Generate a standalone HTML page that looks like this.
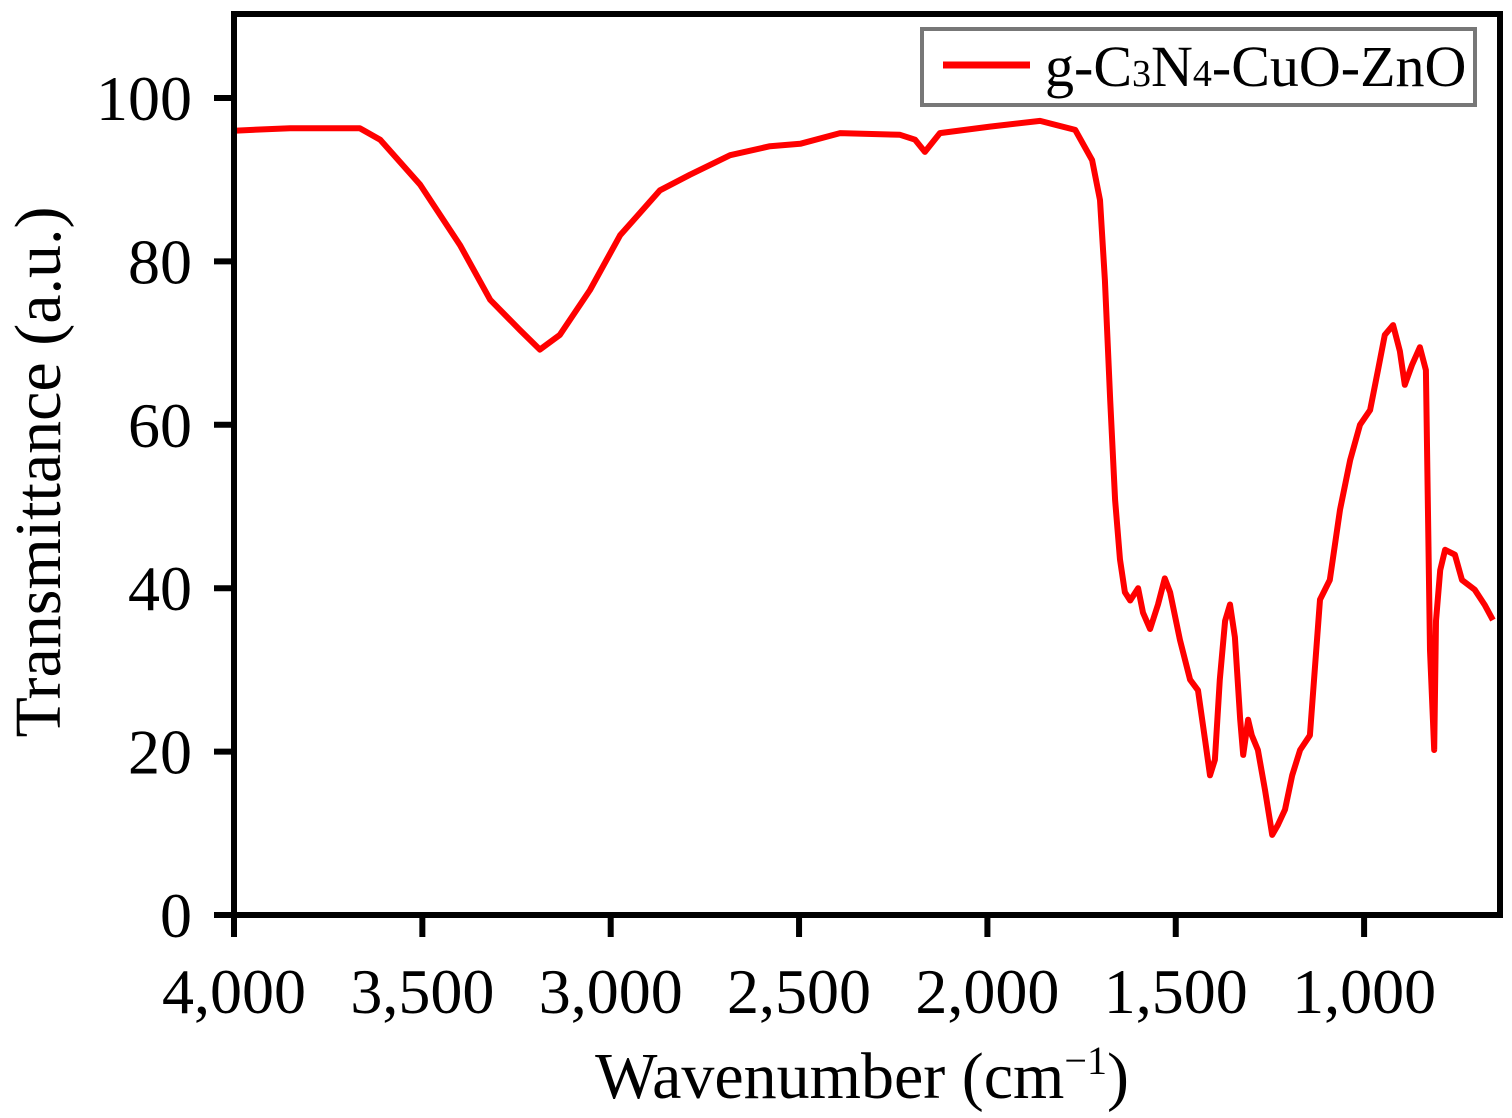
<!DOCTYPE html>
<html><head><meta charset="utf-8"><style>
html,body{margin:0;padding:0;background:#fff;}
svg{display:block;font-family:"Liberation Serif",serif;}
</style></head><body>
<svg id="chart" width="1512" height="1118" viewBox="0 0 1512 1118">
<g id="plot"></g>
</svg>
<script>
const wavenumbers=[4000,3851,3666,3612,3506,3400,3320,3241,3188,3135,3055,2975,2869,2790,2683,2577,2497,2391,2232,2192,2166,2126,1993,1860,1767,1722,1701,1688,1674,1661,1648,1635,1621,1600,1587,1568,1547,1529,1515,1489,1462,1441,1422,1409,1396,1383,1369,1356,1343,1329,1321,1308,1298,1282,1263,1244,1229,1210,1191,1170,1144,1117,1091,1064,1037,1011,984,963,945,923,905,892,873,852,836,831,825,814,809,798,785,759,740,706,679,658];
const transmittance=[96,96.3,96.3,94.9,89.4,82,75.3,71.6,69.2,71,76.5,83.2,88.7,90.6,93,94.1,94.4,95.7,95.5,94.9,93.4,95.7,96.5,97.2,96.1,92.4,87.5,77.7,63,50.8,43.5,39.5,38.5,40,37,35,38,41.2,39.5,33.7,28.8,27.5,21.4,17.1,19,28.8,36,38,34,23.9,19.6,23.9,22,20.2,15.3,9.8,11,12.9,17.1,20.2,22,38.6,41,49.6,55.7,60,61.8,66.7,71,72.2,69,64.9,67.3,69.5,66.7,50.8,32.4,20.2,36,42.2,44.7,44.1,41,39.8,37.9,36.1];
const xTicks=[4000,3500,3000,2500,2000,1500,1000];
const xTickLabels=["4,000","3,500","3,000","2,500","2,000","1,500","1,000"];
const yTicks=[0,20,40,60,80,100];
const yTickLabels=["0","20","40","60","80","100"];

const L=234,R=1500,T=14,B=915;
const X=w=>L+(4000-w)*0.3767;
const Y=v=>B-v*8.17;
const NS="http://www.w3.org/2000/svg";
const g=document.getElementById('plot');
function mk(tag,attrs,parent){const e=document.createElementNS(NS,tag);for(const k in attrs)e.setAttribute(k,attrs[k]);(parent||g).appendChild(e);return e;}

const clip=mk('clipPath',{id:'pc'});
mk('rect',{x:L,y:T,width:R-L,height:B-T},clip);

let d='';
for(let i=0;i<wavenumbers.length;i++){d+=(i?'L':'M')+X(wavenumbers[i]).toFixed(1)+','+Y(transmittance[i]).toFixed(1);}
const line=mk('path',{d:d,fill:'none',stroke:'#ff0000','stroke-width':6,'stroke-linejoin':'round','clip-path':'url(#pc)'});



const frame=mk('rect',{x:L,y:T,width:R-L,height:B-T,fill:'none',stroke:'#000','stroke-width':6});



xTicks.forEach((w,i)=>{
  const t=mk('line',{x1:X(w),x2:X(w),y1:B,y2:B+22,stroke:'#000','stroke-width':6});
  
  
  const lb=mk('text',{x:X(w),y:1013,'text-anchor':'middle','font-size':64});
  lb.textContent=xTickLabels[i];
  
  
});
yTicks.forEach((v,i)=>{
  const t=mk('line',{x1:L-20,x2:L,y1:Y(v),y2:Y(v),stroke:'#000','stroke-width':6});
  
  
  const lb=mk('text',{x:192,y:Y(v)+22,'text-anchor':'end','font-size':64});
  lb.textContent=yTickLabels[i];
  
  
});
</script>
<svg width="1512" height="1118" style="position:absolute;left:0;top:0;font-family:'Liberation Serif',serif">
<text x="862" y="1098" text-anchor="middle" font-size="66">Wavenumber (cm<tspan dy="-24" font-size="40">−1</tspan><tspan dy="24">)</tspan></text>
<text transform="translate(60,472) rotate(-90)" text-anchor="middle" font-size="66">Transmittance (a.u.)</text>
<g>
<rect x="922" y="29" width="553" height="76" fill="#fff" stroke="#777" stroke-width="4"/>
<line x1="943" y1="65" x2="1030" y2="65" stroke="#ff0000" stroke-width="7"/>
<text x="1045" y="86" font-size="58">g-C<tspan font-size="38">3</tspan>N<tspan font-size="38">4</tspan>-CuO-ZnO</text>
</g>
</svg>
</body></html>
